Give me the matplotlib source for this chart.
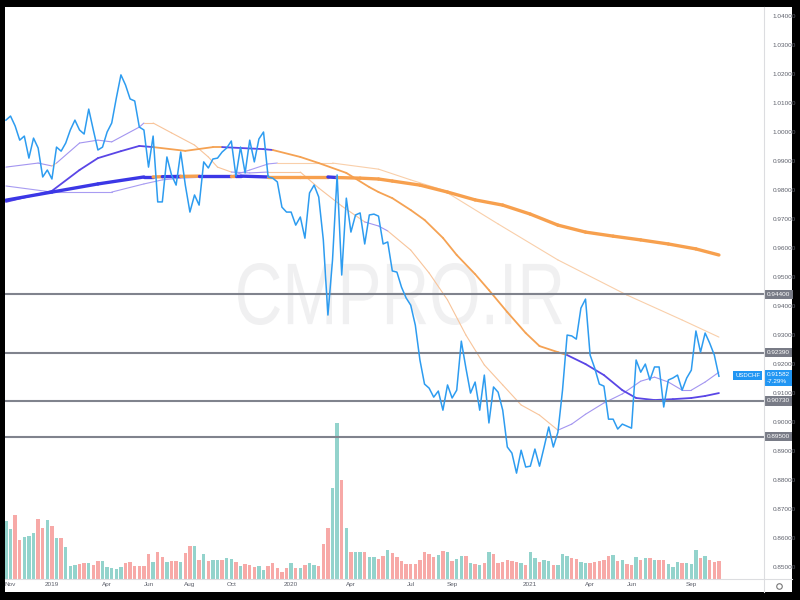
import numpy as np
import pandas as pd
import matplotlib
matplotlib.use("Agg")
import matplotlib.pyplot as plt
from matplotlib.patches import Rectangle, PathPatch
from matplotlib.lines import Line2D
from matplotlib.textpath import TextPath
from matplotlib.font_manager import FontProperties
from matplotlib.transforms import Affine2D, blended_transform_factory

# ---------------- data ----------------
start_date = "2018-10-29"   # weekly bars
close = [
    1.0041, 1.0055, 1.0021, 0.9972, 0.9986, 0.9910, 0.9979, 0.9945, 0.9845, 0.9869,
    0.9838, 0.9948, 0.9934, 0.9962, 1.0007, 1.0041, 1.0007, 0.9993, 1.0079, 1.0007,
    0.9938, 0.9948, 1.0000, 1.0031, 1.0117, 1.0197, 1.0162, 1.0114, 1.0107, 1.0017,
    1.0007, 0.9879, 0.9986, 0.9759, 0.9759, 0.9914, 0.9852, 0.9817, 0.9931, 0.9817,
    0.9724, 0.9783, 0.9748, 0.9897, 0.9876, 0.9907, 0.9910, 0.9931, 0.9945, 0.9969,
    0.9848, 0.9948, 0.9859, 0.9972, 0.9897, 0.9976, 1.0000, 0.9845, 0.9841, 0.9828,
    0.9741, 0.9724, 0.9724, 0.9679, 0.9707, 0.9634, 0.9790, 0.9817, 0.9776, 0.9628,
    0.9369, 0.9559, 0.9852, 0.9507, 0.9772, 0.9655, 0.9714, 0.9721, 0.9614, 0.9714,
    0.9717, 0.9710, 0.9614, 0.9621, 0.9521, 0.9517, 0.9465, 0.9428, 0.9403, 0.9334,
    0.9214, 0.9131, 0.9117, 0.9086, 0.9107, 0.9041, 0.9128, 0.9083, 0.9110, 0.9279,
    0.9186, 0.9100, 0.9138, 0.9041, 0.9162, 0.8997, 0.9121, 0.9103, 0.9041, 0.8914,
    0.8893, 0.8824, 0.8903, 0.8845, 0.8848, 0.8907, 0.8848, 0.8914, 0.8983, 0.8914,
    0.8965, 0.9110, 0.9300, 0.9297, 0.9286, 0.9393, 0.9424, 0.9231, 0.9186, 0.9131,
    0.9124, 0.9010, 0.9010, 0.8976, 0.8993, 0.8986, 0.8979, 0.9214, 0.9172, 0.9200,
    0.9145, 0.9190, 0.9190, 0.9052, 0.9145, 0.9152, 0.9162, 0.9110, 0.9152, 0.9179,
    0.9314, 0.9241, 0.9307, 0.9272, 0.9231, 0.9158,
]
volume = [
    58, 50, 64, 39, 42, 43, 46, 60, 51, 59, 53, 41, 41, 32, 13, 14, 15, 16, 16, 14,
    18, 18, 12, 11, 10, 12, 16, 17, 13, 13, 13, 25, 17, 27, 22, 17, 18, 18, 17, 26,
    33, 33, 19, 25, 18, 19, 19, 19, 21, 20, 17, 13, 15, 14, 12, 13, 9, 13, 16, 11,
    7, 11, 16, 11, 11, 14, 16, 14, 13, 35, 51, 91, 156, 99, 51, 27, 27, 27, 27, 22,
    22, 20, 23, 29, 26, 22, 18, 15, 15, 15, 19, 27, 25, 22, 24, 28, 27, 18, 20, 23,
    23, 16, 15, 14, 16, 27, 25, 16, 17, 19, 18, 17, 16, 14, 27, 21, 17, 19, 18, 14,
    14, 25, 23, 21, 20, 17, 16, 16, 17, 18, 19, 23, 24, 18, 19, 15, 14, 22, 19, 21,
    21, 19, 19, 19, 15, 12, 17, 16, 16, 15, 29, 21, 23, 19, 17, 18,
]
vol_dir = ("TTRRTTTRRT" "RTRTTTRRTR" "RTTTTTRRRR" "RRTRRTRRTR" "RTRTRTTRTT"
           "RTRRRTTRRR" "RRTRTRTTRR" "RTTRTRTTRT" "TRRTRRRRRR" "RRRRTRTRTT"
           "RTRTRTRRRR" "RRTRTTRTTR" "TTTRRTTRRR" "RRTRTRRTRT" "RTRRTTTRTT"
           "TRTRRR")

# moving averages: week index, value, colour flag per segment (P = blue/purple, O = orange)
ma_fast_w = [0, 7, 10, 11, 16, 20, 23, 29, 30, 32, 36, 41, 44, 46, 49, 53, 57, 64, 68, 73,
             78, 81, 83, 88, 92, 96, 100, 104, 108, 112, 116, 120, 123, 126, 130, 134, 138,
             141, 144, 147, 149, 152, 155]
ma_fast_v = [0.9879, 0.9893, 0.9883, 0.9893, 0.9962, 0.9972, 0.9966, 1.0017, 1.0031, 1.0031,
             0.9997, 0.9955, 0.9914, 0.9879, 0.9862, 0.9859, 0.9862, 0.9862, 0.9807, 0.9745,
             0.9690, 0.9676, 0.9659, 0.9593, 0.9514, 0.9421, 0.9300, 0.9197, 0.9128, 0.9059,
             0.9024, 0.8972, 0.8993, 0.9027, 0.9066, 0.9097, 0.9141, 0.9155, 0.9138, 0.9110,
             0.9110, 0.9138, 0.9172]
ma_fast_c = "PPOPPPPP" "OOOOOO" "PP" "OOOO" "PP" "OOOOOOOOO" "PPPPPPPPPPPP"

ma_mid_w = [0, 10, 16, 20, 25, 29, 32, 39, 45, 47, 56, 58, 64, 68, 74, 79, 81, 84, 88, 91,
            95, 98, 102, 105, 109, 113, 116, 120, 122, 126, 130, 134, 137, 141, 145, 149,
            152, 155]
ma_mid_v = [0.9759, 0.9797, 0.9869, 0.9910, 0.9934, 0.9952, 0.9948, 0.9935, 0.9948, 0.9948,
            0.9941, 0.9938, 0.9914, 0.9893, 0.9859, 0.9810, 0.9793, 0.9772, 0.9731, 0.9697,
            0.9635, 0.9576, 0.9510, 0.9455, 0.9379, 0.9307, 0.9262, 0.9241, 0.9231, 0.9200,
            0.9162, 0.9110, 0.9083, 0.9076, 0.9079, 0.9083, 0.9090, 0.9100]
ma_mid_c = "PPPPPP" "OOO" "PP" "OOOOOOOOOOOOOOOOO" "PPPPPPPPPP"

ma_slow_w = [0, 10, 23, 30, 34, 38, 49, 53, 57, 59, 71, 81, 88, 95, 107, 120, 135, 147, 155]
ma_slow_v = [0.9814, 0.9793, 0.9793, 0.9821, 0.9835, 0.9841, 0.9848, 0.9869, 0.9890, 0.9893,
             0.9893, 0.9872, 0.9835, 0.9800, 0.9683, 0.9559, 0.9438, 0.9352, 0.9293]
ma_slow_c = "PPPPPPPPP" "OOOOOOOOOO"

ma_long_w = [0, 10, 20, 30, 32, 34, 38, 42, 49, 50, 51, 57, 64, 70, 72, 77, 81, 84, 90, 96,
             102, 108, 114, 120, 126, 132, 138, 144, 150, 155]
ma_long_v = [0.9765, 0.9793, 0.9821, 0.9845, 0.9845, 0.9846, 0.9847, 0.9848, 0.9848, 0.9848,
             0.9848, 0.9845, 0.9845, 0.9845, 0.9843, 0.9841, 0.9838, 0.9831, 0.9817, 0.9793,
             0.9766, 0.9748, 0.9717, 0.9679, 0.9655, 0.9641, 0.9628, 0.9614, 0.9597, 0.9576]
ma_long_c = "PPPP" "O" "P" "O" "P" "O" "PP" "OO" "P" "O" "OOOOOOOOOOOOOOO"

levels = [0.9440, 0.9239, 0.9073, 0.8950]
last_price = 0.91582
last_change = "-7.29%"
symbol = "USDCHF"

price_ticks = [0.85, 0.86, 0.87, 0.88, 0.89, 0.90, 0.91, 0.92, 0.93, 0.94,
               0.95, 0.96, 0.97, 0.98, 0.99, 1.00, 1.01, 1.02, 1.03, 1.04]
time_tick_dates = ["2018-11-05", "2019-01-07", "2019-04-01", "2019-06-03", "2019-08-05",
                   "2019-10-07", "2020-01-06", "2020-04-06", "2020-07-06", "2020-09-07",
                   "2021-01-04", "2021-04-05", "2021-06-07", "2021-09-06"]
time_tick_labels = ["Nov", "2019", "Apr", "Jun", "Aug", "Oct", "2020", "Apr", "Jul", "Sep",
                    "2021", "Apr", "Jun", "Sep"]

# ---------------- figure ----------------
W, H = 800, 600
fig = plt.figure(figsize=(8, 6), dpi=100, facecolor="black")
fig.patches.append(Rectangle((5 / W, 8 / H), 787 / W, 585 / H, transform=fig.transFigure,
                             facecolor="white", edgecolor="none", zorder=0))

rect = [5 / W, (H - 579) / H, (764 - 5) / W, (579 - 7) / H]
axv = fig.add_axes(rect)
ax = fig.add_axes(rect, sharex=axv)
axv.set_zorder(1)
ax.set_zorder(2)
ax.patch.set_visible(False)
axv.patch.set_visible(False)

weeks = np.arange(len(close))
t0 = pd.Timestamp(start_date)

# volume
vcol = ["#93d3cc" if c == "T" else "#f7a9a7" for c in vol_dir]
axv.bar(weeks, volume, width=0.72, color=vcol, linewidth=0)
axv.set_ylim(0, 572)
axv.axis("off")

# watermark
prop = FontProperties(family="Liberation Sans")
tp = TextPath((0, 0), "CMPRO.IR", size=1, prop=prop)
bb = tp.get_extents()
sx = (562 - 238) / bb.width
sy = (325 - 263) / bb.height
tr = Affine2D().translate(-bb.x0, -bb.y0).scale(sx, sy).translate(238, H - 325)
fig.patches.append(PathPatch(tr.transform_path(tp), transform=None, facecolor="#f0f0f1",
                             edgecolor="none", zorder=0.5))

# moving averages
def draw_ma(wk, val, flags, cP, cO, lw):
    for i in range(len(wk) - 1):
        c = cP if flags[i] == "P" else cO
        ax.plot(wk[i:i + 2], val[i:i + 2], color=c, lw=lw, solid_capstyle="round", zorder=3)

draw_ma(ma_slow_w, ma_slow_v, ma_slow_c, "#a89cf2", "#f9cfaa", 0.8)
draw_ma(ma_fast_w, ma_fast_v, ma_fast_c, "#a395f0", "#f8c49a", 0.8)
draw_ma(ma_mid_w, ma_mid_v, ma_mid_c, "#5a46e6", "#f5a253", 1.3)
draw_ma(ma_long_w, ma_long_v, ma_long_c, "#3b37e6", "#f7a04e", 2.4)

# levels
for lv in levels:
    ax.axhline(lv, color="#80838d", lw=1.5, zorder=4)

# close line
ax.plot(weeks, close, color="#2d9cf0", lw=1.1, zorder=5)

ax.set_xlim(-0.2, 164.8)
ax.set_ylim(0.8459, 1.0431)
for s in ax.spines.values():
    s.set_visible(False)

# y axis (right)
ax.yaxis.tick_right()
ax.set_yticks(price_ticks)
ax.set_yticklabels([f"{p:.5f}" for p in price_ticks])
ax.tick_params(axis="y", length=0, pad=6, labelsize=4.6, labelcolor="#5d606b")
for lab in ax.get_yticklabels():
    lab.set_fontfamily("Liberation Sans")

# x axis
tick_pos = [(pd.Timestamp(d) - t0).days / 7 for d in time_tick_dates]
ax.set_xticks(tick_pos)
ax.set_xticklabels(time_tick_labels)
ax.tick_params(axis="x", length=0, pad=2.5, labelsize=4.6, labelcolor="#5d606b")
for lab in ax.get_xticklabels():
    lab.set_fontfamily("Liberation Sans")

# axis border lines
fig.lines.append(Line2D([764 / W, 764 / W], [8 / H, (H - 7) / H], transform=fig.transFigure,
                        color="#dcdde0", lw=0.8))
fig.lines.append(Line2D([5 / W, 792 / W], [(H - 579) / H, (H - 579) / H], transform=fig.transFigure,
                        color="#dcdde0", lw=0.8))

# label boxes on price scale
btr = blended_transform_factory(ax.transAxes, ax.transData)
xr = (767 - 5) / (764 - 5)
for lv in levels:
    ax.text(xr, lv, f"{lv:.5f}", transform=btr, ha="left", va="center", fontsize=4.6,
            family="Liberation Sans", color="white", zorder=10, clip_on=False,
            bbox=dict(boxstyle="square,pad=0.35", fc="#787b86", ec="none"))
ax.text(xr, last_price + 0.0013, f"{last_price:.5f}\n{last_change}", transform=btr, ha="left",
        va="top", fontsize=4.6, family="Liberation Sans", color="white", zorder=11,
        clip_on=False, linespacing=1.3,
        bbox=dict(boxstyle="square,pad=0.35", fc="#2196f3", ec="none"))
ax.text((760 - 5) / (764 - 5), last_price + 0.0003, symbol, transform=btr, ha="right",
        va="center", fontsize=4.3, family="Liberation Sans", color="white", zorder=11,
        clip_on=False, bbox=dict(boxstyle="square,pad=0.35", fc="#2196f3", ec="none"))

# settings gear
fig.lines.append(Line2D([779 / W], [(H - 586) / H], transform=fig.transFigure, marker="o",
                        markersize=4, markerfacecolor="white", markeredgecolor="#777777",
                        markeredgewidth=0.8))

fig.savefig("out.png", dpi=100, facecolor="black")
